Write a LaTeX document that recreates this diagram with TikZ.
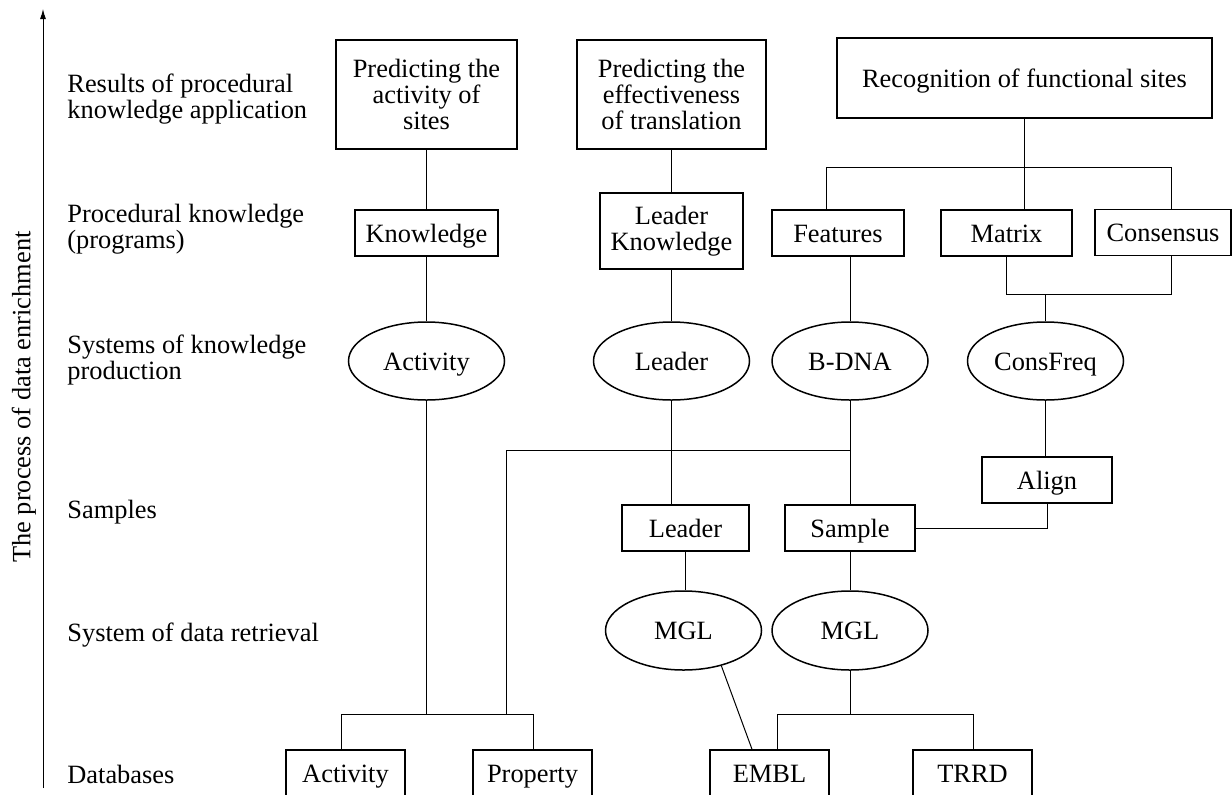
\documentclass[tikz,border=0pt]{standalone}
\usepackage{fontspec}
\setmainfont{Liberation Serif}
\usetikzlibrary{shapes.geometric,arrows.meta}
\begin{document}
\begin{tikzpicture}[x=0.5pt,y=-0.5pt,
  font=\fontsize{13.2}{13}\selectfont,
  box/.style={draw,line width=0.75pt,rectangle,inner sep=0pt,text height=9pt,text depth=0pt},
  mbox/.style={draw,line width=0.75pt,rectangle,inner sep=0pt,align=center},
  db/.style={box,minimum width=59.5pt,minimum height=23pt},
  oval/.style={draw,line width=0.75pt,ellipse,inner sep=0pt,minimum width=78pt,minimum height=39pt,text height=9pt,text depth=0pt},
  link/.style={line width=0.5pt},
  lvl/.style={inner sep=0pt,align=left}
]
\useasboundingbox (0,0) rectangle (1232,794);
\clip (0,0) rectangle (1232,794);

% axis
\coordinate (atop) at (43,9);
\coordinate (abot) at (43,788);
\draw[link,-{Latex[length=5pt,width=3pt]}] (abot) -- (atop);
\node[rotate=90,inner sep=0pt] (axlab) at (24,397) {The process of data enrichment};

% level labels
\node[lvl,anchor=north west] (l1) at (67,74) {Results of procedural\\knowledge application};
\node[lvl,anchor=north west] (l2) at (67,204) {Procedural knowledge\\(programs)};
\node[lvl,anchor=north west] (l3) at (67,335) {Systems of knowledge\\production};
\node[lvl,anchor=base west] (l4) at (67,518) {Samples};
\node[lvl,anchor=base west] (l5) at (67,641) {System of data retrieval};
\node[lvl,anchor=base west] (l6) at (67,783) {Databases};

% top level
\node[mbox,minimum width=90.5pt,minimum height=54.5pt] (pact) at (426.5,94.5) {Predicting the\\activity of\\sites};
\node[mbox,minimum width=94.5pt,minimum height=54.5pt] (peff) at (671.5,94.5) {Predicting the\\effectiveness\\of translation};
\node[box,minimum width=187.5pt,minimum height=40pt] (rec) at (1024.5,78) {Recognition of functional sites};

% programs
\node[box,minimum width=71.5pt,minimum height=23pt] (know) at (426.5,233) {Knowledge};
\node[mbox,minimum width=71.5pt,minimum height=38pt] (lknow) at (671.5,231) {Leader\\Knowledge};
\node[box,minimum width=66pt,minimum height=23pt] (feat) at (838,233) {Features};
\node[box,minimum width=65.5pt,minimum height=23pt] (matrix) at (1006.5,233) {Matrix};
\node[box,minimum width=68pt,minimum height=23pt] (cons) at (1163,232.5) {Consensus};

% knowledge production systems
\node[oval] (eact) at (426.5,361) {Activity};
\node[oval] (elead) at (671.5,361) {Leader};
\node[oval] (ebdna) at (850,361) {B-DNA};
\node[oval] (econs) at (1045.5,361) {ConsFreq};

% samples
\node[box,minimum width=65pt,minimum height=23pt] (align) at (1047,480) {Align};
\node[box,minimum width=63.5pt,minimum height=23pt] (leader) at (685.5,528) {Leader};
\node[box,minimum width=65pt,minimum height=23pt] (sample) at (850,528) {Sample};

% retrieval
\node[oval,minimum height=39.5pt] (mgl1) at (683.5,630.5) {MGL};
\node[oval,minimum height=39.5pt] (mgl2) at (850,630.5) {MGL};

% databases
\node[db] (dbact) at (345.5,773) {Activity};
\node[db] (dbprop) at (532.5,773) {Property};
\node[db] (dbembl) at (769.5,773) {EMBL};
\node[db] (dbtrrd) at (972.5,773) {TRRD};

% connectors
\draw[link] (pact) -- (know);
\draw[link] (know) -- (eact);
\draw[link] (peff) -- (lknow);
\draw[link] (lknow) -- (elead);

\draw[line width=0.75pt] (rec.south) -- (rec.south |- matrix.north);
\coordinate (b1) at (826,167);
\coordinate (b2) at (1171,167);
\draw[link] (b1 |- feat.north) -- (b1) -- (b2) -- (b2 |- cons.north);
\draw[link] (ebdna.north) -- (ebdna.north |- feat.south);

\coordinate (m1) at (1006,294);
\coordinate (m2) at (1171,294);
\draw[link] (m1 |- matrix.south) -- (m1) -- (m2) -- (m2 |- cons.south);
\draw[link] (econs.north) -- (econs.north |- m1);
\draw[link] (econs.south) -- (econs.south |- align.north);
\draw[link] (align.south) |- (sample.east);

\draw[link] (elead.south) -- (elead.south |- leader.north);
\draw[link] (leader.south) -- (leader.south |- mgl1.north);
\draw[link] (ebdna) -- (sample);
\draw[link] (sample) -- (mgl2);

\coordinate (c1) at (506,450);
\coordinate (a1) at (341,714);
\coordinate (a2) at (533,714);
\draw[link] (ebdna.south |- c1) -- (c1) -- (c1 |- a1);
\draw[link] (eact.south) -- (eact.south |- a1);
\draw[link] (a1 |- dbact.north) -- (a1) -- (a2) -- (a2 |- dbprop.north);

\coordinate (e1) at (777,714);
\coordinate (e2) at (973,714);
\draw[link] (mgl2.south) -- (mgl2.south |- e1);
\draw[link] (e1 |- dbembl.north) -- (e1) -- (e2) -- (e2 |- dbtrrd.north);
\coordinate (emt) at (752,750);
\draw[link] (mgl1.-43.5) -- (emt |- dbembl.north);
\end{tikzpicture}
\end{document}
